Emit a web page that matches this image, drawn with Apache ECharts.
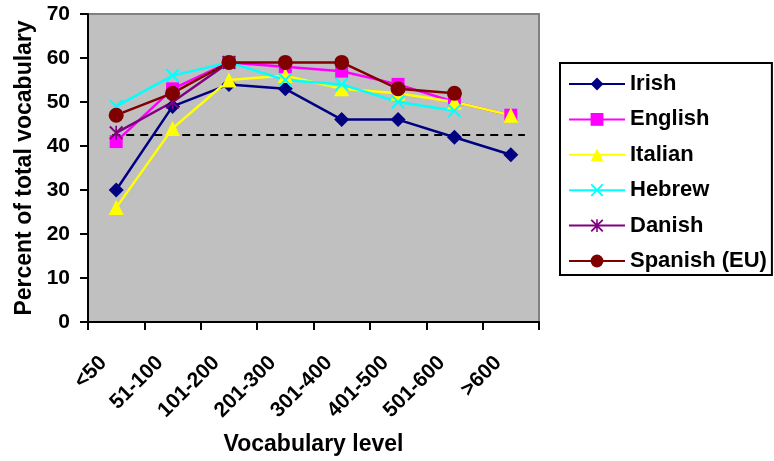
<!DOCTYPE html>
<html><head><meta charset="utf-8">
<script src="https://cdn.jsdelivr.net/npm/echarts@6/dist/echarts.min.js"></script>
<style>html,body{margin:0;padding:0;background:#fff}#c{width:774px;height:461px}</style>
</head><body><div id="c"></div>
<script>
const categories = ['<50','51-100','101-200','201-300','301-400','401-500','501-600','>600'];
const irish   = [30, 49, 54, 53, 46, 46, 42, 38];
const english = [41, 53, 59, 58, 57, 54, 50, 47];
const italian = [26, 44, 55, 56, 53, 52, 50, 47];
const hebrew  = [49, 56, 59, 55, 54, 50, 48, null];
const danish  = [43, 50, 59, null, null, null, null, null];
const spanish = [47, 52, 59, 59, 59, 53, 52, null];
const averageValue = 42.5;
const averageSpan = [-0.07, 7.25];
const yTicks = [0, 10, 20, 30, 40, 50, 60, 70];

const F = 'Arial, "Liberation Sans", sans-serif';
const X = 'path://M0,1 L1,0 L5,4 L9,0 L10,1 L6,5 L10,9 L9,10 L5,6 L1,10 L0,9 L4,5 Z';
const STAR = 'path://M0,1 L1,0 L5,4 L9,0 L10,1 L6,5 L10,9 L9,10 L5,6 L1,10 L0,9 L4,5 Z M4.4,0 L5.6,0 L5.6,10 L4.4,10 Z';

function s(name, data, color, symbol, size) {
  return {name, type:'line', data, symbol, symbolSize:size, showSymbol:true,
    lineStyle:{color, width:2.5}, itemStyle:{color}, connectNulls:false, z:3};
}

const chart = echarts.init(document.getElementById('c'));
chart.setOption({
  animation:false,
  textStyle:{fontFamily:F},
  grid:{left:88, right:235, top:14, bottom:139, show:true, backgroundColor:'#c0c0c0', borderColor:'#808080', borderWidth:2},
  legend:{orient:'vertical', left:560, top:63, padding:[10,5,3,8], itemWidth:56, itemHeight:16, itemGap:13.4,
    borderColor:'#000', borderWidth:2, backgroundColor:'#fff',
    textStyle:{fontFamily:F, fontWeight:'bold', fontSize:22, color:'#000'},
    data:['Irish','English','Italian','Hebrew','Danish','Spanish (EU)']},
  xAxis:[{type:'category', data:categories, boundaryGap:true,
    axisLine:{lineStyle:{color:'#000', width:2}},
    axisTick:{show:true, length:8, lineStyle:{color:'#000', width:2}, alignWithLabel:false},
    axisLabel:{rotate:45, margin:25, padding:[0,18,0,0], fontFamily:F, fontWeight:'bold', fontSize:21, color:'#000'},
    name:'Vocabulary level', nameLocation:'middle', nameGap:111,
    nameTextStyle:{fontFamily:F, fontWeight:'bold', fontSize:23, color:'#000'}},
    {type:'value', min:-0.5, max:7.5, show:false}],
  yAxis:{type:'value', min:yTicks[0], max:yTicks[yTicks.length-1], interval:10,
    splitLine:{show:false},
    axisLine:{show:true, onZero:false, lineStyle:{color:'#000', width:2}},
    axisTick:{show:true, length:8, lineStyle:{color:'#000', width:2}},
    axisLabel:{margin:18, fontFamily:F, fontWeight:'bold', fontSize:21, color:'#000'},
    name:'Percent of total vocabulary', nameLocation:'middle', nameGap:52,
    nameTextStyle:{fontFamily:F, fontWeight:'bold', fontSize:23, color:'#000'}},
  series:[
    {name:'avg', type:'line', xAxisIndex:1, data:[[averageSpan[0],averageValue],[averageSpan[1],averageValue]],
      showSymbol:false, symbol:'none', lineStyle:{color:'#000', width:2, type:[8,6]}, z:2, silent:true},
    s('Irish', irish, '#000080', 'diamond', 15),
    s('English', english, '#ff00ff', 'rect', 13),
    s('Italian', italian, '#ffff00', 'triangle', 15),
    s('Hebrew', hebrew, '#00ffff', X, 14),
    s('Danish', danish, '#800080', STAR, 14),
    s('Spanish (EU)', spanish, '#800000', 'circle', 15)
  ]
});
</script></body></html>
